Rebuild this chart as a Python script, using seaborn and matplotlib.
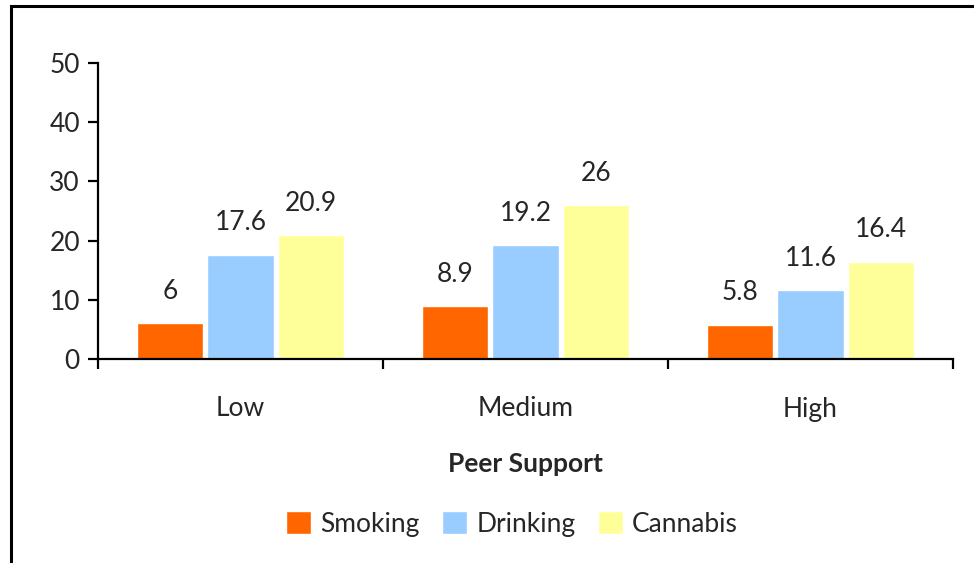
import matplotlib
matplotlib.use("Agg")
import matplotlib.pyplot as plt
import pandas as pd
import seaborn as sns
from matplotlib.patches import Rectangle

categories = ["Low", "Medium", "High"]
series = ["Smoking", "Drinking", "Cannabis"]
smoking = [6, 8.9, 5.8]
drinking = [17.6, 19.2, 11.6]
cannabis = [20.9, 26, 16.4]
labels = {
    "Smoking": ["6", "8.9", "5.8"],
    "Drinking": ["17.6", "19.2", "11.6"],
    "Cannabis": ["20.9", "26", "16.4"],
}
colors = ["#FF6600", "#99CCFF", "#FFFF99"]

df = pd.DataFrame({
    "support": categories * 3,
    "behaviour": [s for s in series for _ in categories],
    "value": smoking + drinking + cannabis,
})

sns.set_theme(style="white")
plt.rcParams["font.family"] = ["Lato", "DejaVu Sans"]
FS = 19

fig = plt.figure(figsize=(9.74, 5.63), dpi=100)
ax = fig.add_axes([98 / 974, 1 - 359 / 563, (953 - 98) / 974, (359 - 63) / 563])

sns.barplot(data=df, x="support", y="value", hue="behaviour", order=categories,
            hue_order=series, palette=colors, width=0.74, gap=0.06,
            saturation=1, ax=ax)

for cont, name in zip(ax.containers, series):
    ax.bar_label(cont, labels=labels[name], padding=14, fontsize=FS)

ax.set_ylim(0, 50)
ax.set_xlim(-0.5, 2.5)
ax.set_yticks(range(0, 51, 10))
ax.set_ylabel("")
ax.set_xlabel("Peer Support", fontsize=FS, fontweight="bold", labelpad=22)

for side in ["top", "right"]:
    ax.spines[side].set_visible(False)
for side in ["left", "bottom"]:
    ax.spines[side].set_color("black")
    ax.spines[side].set_linewidth(1.6)

ax.tick_params(axis="y", which="major", left=True, length=7, width=1.6,
               color="black", labelsize=FS, pad=6)
ax.tick_params(axis="x", which="major", bottom=False, labelsize=FS, pad=21)
ax.set_xticks([-0.5, 0.5, 1.5, 2.5], minor=True)
ax.tick_params(axis="x", which="minor", bottom=True, length=7, width=1.6,
               color="black")

leg = ax.legend(loc="center", bbox_to_anchor=(512 / 974, (563 - 524) / 563),
                bbox_transform=fig.transFigure, ncol=3, frameon=False,
                fontsize=FS, handlelength=0.95, handleheight=0.95,
                handletextpad=0.35, columnspacing=0.85)

fig.patches.append(Rectangle((10.5 / 974, -0.05), 1.1, 1.05 - 5.5 / 563,
                             transform=fig.transFigure, fill=False,
                             edgecolor="black", linewidth=2.2))

fig.savefig("out.png", dpi=100)
